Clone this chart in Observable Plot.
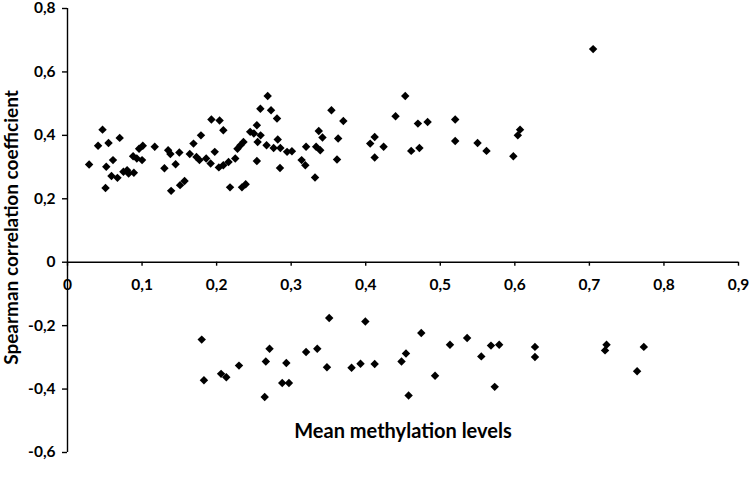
<!DOCTYPE html>
<html><head><meta charset="utf-8">
<script src="https://cdn.jsdelivr.net/npm/d3@7"></script>
<script src="https://cdn.jsdelivr.net/npm/@observablehq/plot@0.6"></script>
<style>html,body{margin:0;padding:0;background:#fff}#chart svg{display:block}</style>
</head><body><div id="chart"></div>
<script>
// Positive correlations: mean methylation (x) and Spearman coefficient (y)
const posX = [0.029,0.041,0.047,0.055,0.052,0.051,0.061,0.059,0.067,0.070,0.075,0.080,0.082,0.089,0.088,0.096,0.093,0.100,0.101,0.117,0.130,0.135,0.138,0.145,0.150,0.139,0.151,0.157,
  0.2685,0.2587,0.273,0.281,0.193,0.204,0.209,0.254,0.245,0.250,0.259,0.179,0.169,0.255,0.236,0.232,0.228,0.282,0.267,0.2765,0.2855,0.2945,0.164,0.173,0.177,0.186,0.1975,0.192,0.203,0.209,0.216,0.225,0.254,0.285,0.218,0.234,0.239,
  0.354,0.370,0.337,0.342,0.363,0.320,0.3335,0.339,0.301,0.314,0.319,0.3615,0.332,0.412,0.406,0.424,0.412,0.440,
  0.453,0.470,0.483,0.520,0.461,0.472,0.520,0.550,0.562,0.598,0.607,0.604,0.705];
const posY = [0.308,0.367,0.418,0.376,0.301,0.234,0.322,0.272,0.266,0.392,0.285,0.290,0.280,0.282,0.334,0.358,0.327,0.322,0.367,0.364,0.296,0.353,0.341,0.309,0.346,0.225,0.243,0.256,
  0.524,0.484,0.479,0.453,0.450,0.447,0.416,0.432,0.411,0.406,0.400,0.400,0.374,0.379,0.379,0.369,0.358,0.387,0.369,0.360,0.360,0.348,0.341,0.332,0.322,0.327,0.348,0.311,0.299,0.306,0.316,0.327,0.319,0.297,0.236,0.236,0.246,
  0.479,0.445,0.414,0.393,0.390,0.364,0.364,0.353,0.350,0.322,0.306,0.324,0.267,0.395,0.374,0.364,0.330,0.460,
  0.524,0.437,0.442,0.450,0.351,0.360,0.382,0.376,0.351,0.334,0.418,0.400,0.672];
// Negative correlations
const negX = [0.180,0.183,0.206,0.213,0.230,0.2645,0.266,0.271,0.288,0.297,0.2935,0.320,0.335,0.351,0.3995,0.348,0.381,0.393,0.412,0.448,0.454,0.4745,0.4575,0.493,0.513,0.536,0.555,0.568,0.579,0.573,0.627,0.627,0.723,0.721,0.764,0.773];
const negY = [-0.244,-0.372,-0.352,-0.363,-0.326,-0.425,-0.313,-0.273,-0.381,-0.381,-0.318,-0.283,-0.273,-0.176,-0.187,-0.331,-0.333,-0.320,-0.321,-0.313,-0.288,-0.223,-0.420,-0.358,-0.260,-0.239,-0.297,-0.263,-0.260,-0.393,-0.267,-0.299,-0.260,-0.278,-0.344,-0.267];

const xTicks = [0,0.1,0.2,0.3,0.4,0.5,0.6,0.7,0.8,0.9];
const yTicks = [-0.6,-0.4,-0.2,0,0.2,0.4,0.6,0.8];
const xTitle = "Mean methylation levels";
const yTitle = "Spearman correlation coefficient";

const points = posX.map((x, i) => ({x, y: posY[i]}))
  .concat(negX.map((x, i) => ({x, y: negY[i]})));
const fmt = d => d === 0 ? "0" : d.toFixed(1).replace(".", ",");

const chart = Plot.plot({
  width: 750, height: 481,
  marginLeft: 67, marginRight: 12, marginTop: 8, marginBottom: 29,
  style: {fontFamily: "Lato, 'Open Sans', sans-serif", color: "black", background: "white", overflow: "visible"},
  x: {domain: [0, 0.9], axis: null},
  y: {domain: [-0.6, 0.8], axis: null},
  marks: [
    Plot.ruleX([0], {stroke: "black", strokeWidth: 1.4}),
    Plot.axisY(yTicks, {tickSize: 5, tickPadding: 7, tickFormat: fmt, fontSize: 15.5, fontWeight: "bold", label: null, stroke: "black", strokeWidth: 1.4}),
    Plot.ruleY([0], {stroke: "black", strokeWidth: 1.4}),
    Plot.ruleX(xTicks, {x: d => d, y1: () => 0, y2: () => 0, insetBottom: -4, stroke: "black", strokeWidth: 1.4}),
    Plot.text(xTicks, {x: d => d, y: () => 0, text: fmt, dy: 23, fontSize: 15.5, fontWeight: "bold", fill: "black"}),
    Plot.dot(points, {x: "x", y: "y", symbol: "diamond2", r: 3.8, fill: "black", stroke: null}),
    Plot.text([yTitle], {text: d => d, frameAnchor: "left", textAnchor: "middle", dx: -56, dy: -3, rotate: -90, fontSize: 19, fontWeight: "bold", fill: "black"}),
    Plot.text([xTitle], {text: d => d, frameAnchor: "bottom", textAnchor: "middle", dy: -15, fontSize: 20, fontWeight: "bold", fill: "black"})
  ]
});
document.getElementById("chart").appendChild(chart);
</script>
</body></html>
